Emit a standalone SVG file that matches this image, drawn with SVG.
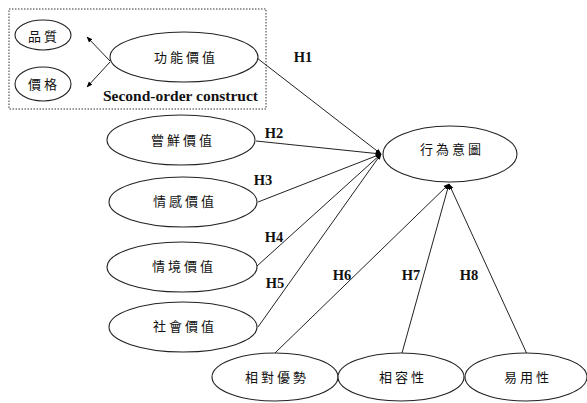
<svg xmlns="http://www.w3.org/2000/svg" width="587" height="403" viewBox="0 0 587 403">
<style>
.n ellipse{fill:#fff;stroke:#222;stroke-width:1.1}
.n text{font-family:"Noto Sans CJK TC","Noto Sans CJK SC",sans-serif;font-size:13px;letter-spacing:3px;fill:#111;text-anchor:middle;dominant-baseline:central}
.e line{stroke:#222;stroke-width:1}
.lbl{font-family:"Liberation Serif",serif;font-weight:bold;font-size:14.5px;fill:#111;text-anchor:middle}
</style>
<defs>
<marker id="dot" viewBox="0 0 10 10" refX="9" refY="5" markerWidth="6" markerHeight="6" orient="auto" markerUnits="userSpaceOnUse">
<path d="M0,1 L10,5 L0,9 z" fill="#000"/>
</marker>
</defs>
<rect id="box" x="9" y="9" width="257" height="100" fill="none" stroke="#333" stroke-width="1" stroke-dasharray="1.5,1.5"/>
<g class="e" id="connectors">
<line x1="110" y1="61" x2="87" y2="37" marker-end="url(#dot)"/>
<line x1="110" y1="62" x2="87" y2="87" marker-end="url(#dot)"/>
<line x1="257" y1="58" x2="381" y2="154" marker-end="url(#dot)"/>
<line x1="256" y1="141" x2="381" y2="154" marker-end="url(#dot)"/>
<line x1="258" y1="202" x2="381" y2="154" marker-end="url(#dot)"/>
<line x1="257" y1="266" x2="381" y2="154" marker-end="url(#dot)"/>
<line x1="258" y1="327" x2="381" y2="154" marker-end="url(#dot)"/>
<line x1="275" y1="353" x2="449" y2="184" marker-end="url(#dot)"/>
<line x1="402" y1="353" x2="449" y2="184" marker-end="url(#dot)"/>
<line x1="527" y1="354" x2="449" y2="184" marker-end="url(#dot)"/>
</g>
<g class="n" id="quality"><ellipse cx="43" cy="35" rx="28" ry="15"/><text x="44" y="35">品質</text></g>
<g class="n" id="price"><ellipse cx="43" cy="84" rx="28" ry="17"/><text x="44" y="83">價格</text></g>
<g class="n" id="functional"><ellipse cx="184" cy="57" rx="74" ry="25"/><text x="186" y="56">功能價值</text></g>
<text class="lbl" x="258" y="101" style="text-anchor:end;font-size:15.5px">Second-order construct</text>
<g class="n" id="fresh"><ellipse cx="181" cy="140" rx="74" ry="25"/><text x="183" y="139">嘗鮮價值</text></g>
<g class="n" id="emotional"><ellipse cx="183" cy="202" rx="74" ry="25"/><text x="185" y="200">情感價值</text></g>
<g class="n" id="situational"><ellipse cx="182" cy="267" rx="75" ry="25"/><text x="184" y="265">情境價值</text></g>
<g class="n" id="social"><ellipse cx="183" cy="327" rx="74" ry="25"/><text x="185" y="325">社會價值</text></g>
<g class="n" id="intention"><ellipse cx="450" cy="154" rx="67" ry="28"/><text x="452" y="148">行為意圖</text></g>
<g class="n" id="advantage"><ellipse cx="275" cy="377" rx="63" ry="24"/><text x="277" y="376">相對優勢</text></g>
<g class="n" id="compat"><ellipse cx="401" cy="377" rx="63" ry="24"/><text x="403" y="376">相容性</text></g>
<g class="n" id="ease"><ellipse cx="526" cy="377" rx="61" ry="24"/><text x="528" y="376">易用性</text></g>
<g id="labels">
<text class="lbl" x="303" y="62">H1</text>
<text class="lbl" x="274" y="138">H2</text>
<text class="lbl" x="263" y="185">H3</text>
<text class="lbl" x="274" y="242">H4</text>
<text class="lbl" x="275" y="288">H5</text>
<text class="lbl" x="342" y="280">H6</text>
<text class="lbl" x="411" y="280">H7</text>
<text class="lbl" x="469" y="280">H8</text>
</g>
</svg>
